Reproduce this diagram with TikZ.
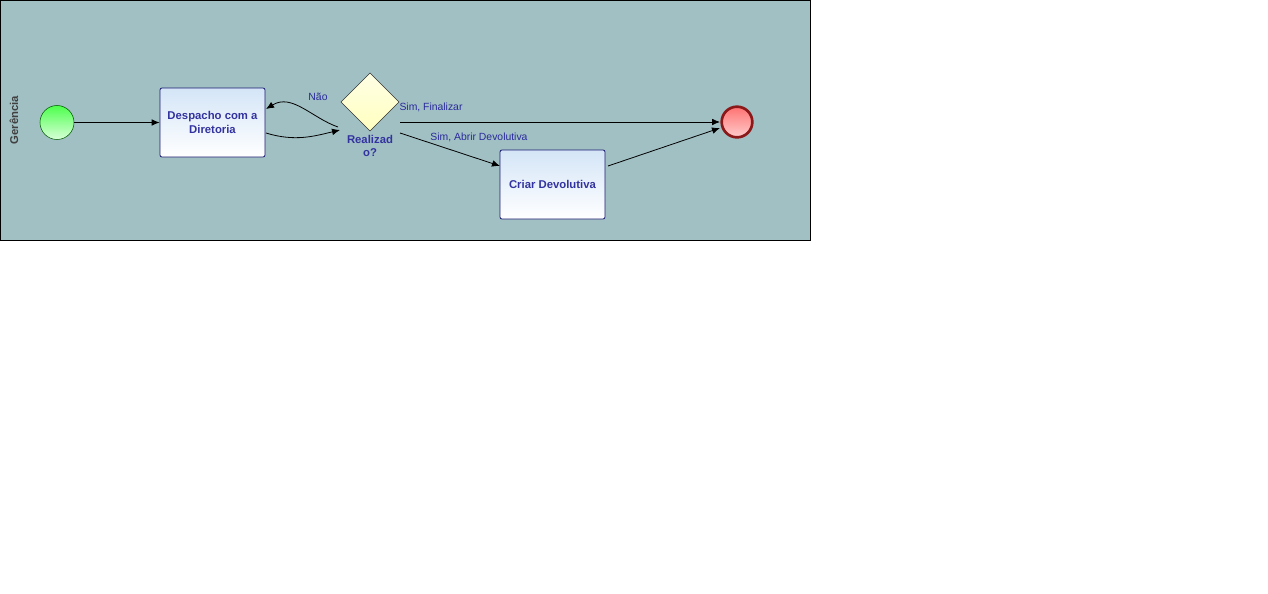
\documentclass[tikz,border=0pt]{standalone}
\usepackage{fontspec}
\setmainfont{Liberation Sans}
\usetikzlibrary{shapes.geometric,arrows.meta}
\definecolor{poolbg}{HTML}{A1C0C4}
\definecolor{tasktxt}{HTML}{3333A0}
\definecolor{taskborder}{HTML}{1A1A70}
\definecolor{tasktop}{HTML}{D4E5F7}
\definecolor{lbl}{HTML}{2A2A9A}
\tikzset{
  taskbox/.style={draw=taskborder, line width=0.6pt, rounded corners=1.5pt, top color=tasktop, bottom color=white,
    minimum width=78.75pt, minimum height=51.75pt, align=center, font=\bfseries\fontsize{8.5}{10}\selectfont, text=tasktxt, inner sep=1pt},
  flow/.style={draw=black, line width=0.6pt, -{Latex[length=6pt,width=5pt]}},
  elabel/.style={font=\fontsize{7.8}{9}\selectfont, text=lbl, inner sep=0pt},
}
\begin{document}
\begin{tikzpicture}[x=0.75pt,y=-0.75pt]
\useasboundingbox (0,0) rectangle (1268,593);
\fill[white] (0,0) rectangle (1268,593);
\draw[fill=poolbg, line width=0.75pt] (0.5,0.5) rectangle (810,240);
\node[rotate=90, font=\bfseries\fontsize{8.5}{10}\selectfont, text=black!75] (pool) at (14,120) {Gerência};

\node[circle, draw=green!35!black, minimum size=25.5pt, inner sep=0pt, top color=green!70!white, bottom color=green!15!white] (start) at (57,122.5) {};
\node[taskbox] (t1) at (212.5,122.5) {Despacho com a\\Diretoria};
\node[diamond, draw=black!80, minimum width=43.5pt, minimum height=43.5pt, inner sep=0pt, aspect=1, top color=white!90!yellow, bottom color=yellow!25!white] (gw) at (370,102) {};
\node[font=\bfseries\fontsize{8.5}{10}\selectfont, text=tasktxt, align=center] (gwl) at (370,146) {Realizad\\o?};
\node[taskbox] (t2) at (552.5,184.5) {Criar Devolutiva};
\node[circle, draw=red!50!black!90, line width=2pt, minimum size=23pt, inner sep=0pt, top color=red!55!white, bottom color=red!20!white] (end) at (737,122) {};

\coordinate (gwL1) at (338,127);
\coordinate (gwL2) at (340,130);
\coordinate (gwR1) at (400,122);
\coordinate (gwR2) at (400,133);
\coordinate (t1a) at (266,109);
\coordinate (t1b) at (266,133);
\coordinate (endA) at (720,122);
\coordinate (endB) at (720,128);
\coordinate (t2in) at (500,166);
\coordinate (t2out) at (608,166);

\draw[flow] (start.east) -- (t1.west);
\draw[flow] (gwL1) .. controls (312,118) and (292,93) .. (t1a);
\draw[flow] (t1b) .. controls (295,142) and (315,136) .. (gwL2);
\draw[flow] (gwR1) -- (endA);
\draw[flow] (gwR2) -- (t2in);
\draw[flow] (t2out) -- (endB);

\node[elabel] (l1) at (318,97) {Não};
\node[elabel] (l2) at (431,107) {Sim, Finalizar};
\node[elabel] (l3) at (479,137) {Sim, Abrir Devolutiva};
\end{tikzpicture}
\end{document}
